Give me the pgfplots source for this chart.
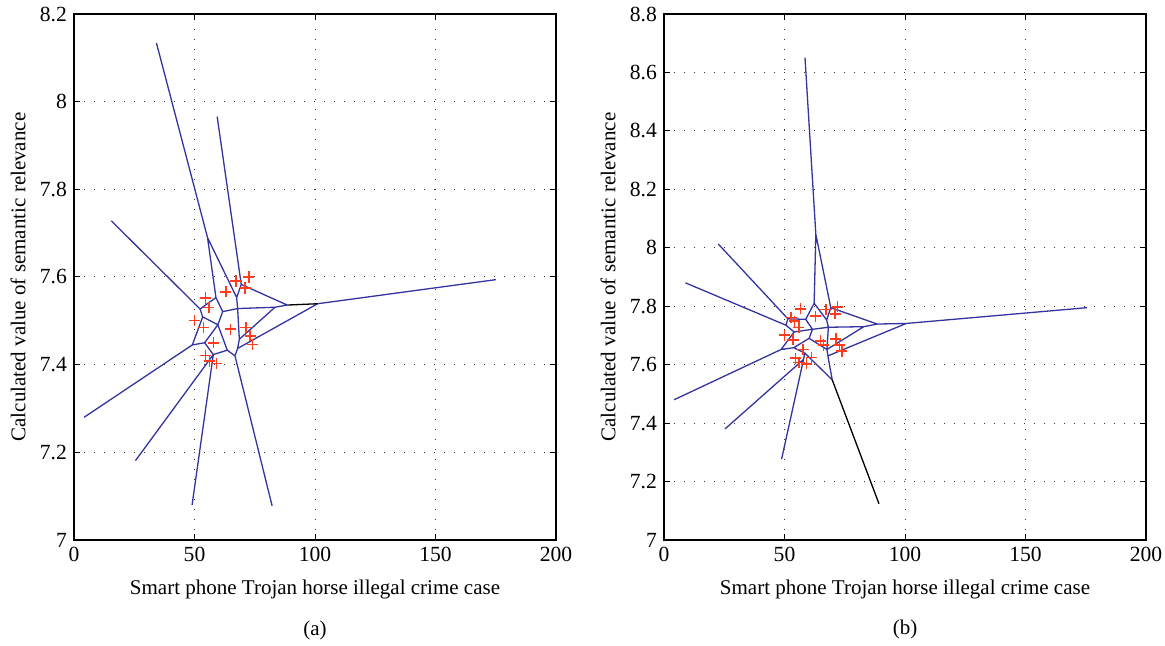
\documentclass[border=0pt]{standalone}
\usepackage{fontspec}
\setmainfont{Liberation Serif}
\usepackage{pgfplots}
\pgfplotsset{compat=1.18}
\definecolor{vor}{RGB}{52,52,160}
\definecolor{pts}{RGB}{255,60,30}
\pgfplotsset{
  vaxis/.style={
    scale only axis, width=241pt, height=263pt,
    xmin=0, xmax=200, xtick={0,50,...,200},
    grid=major, grid style={black!80, line width=0.5pt, dash pattern=on 0.6pt off 4.4pt},
    tick align=inside, major tick length=3pt, tick style={black, line width=0.5pt},
    axis line style={line width=0.7pt},
    /pgf/number format/assume math mode=true,
    ticklabel style={font=\fontsize{10.8}{12}\selectfont},
    label style={font=\fontsize{10.5}{12}\selectfont},
    xlabel={Smart phone Trojan horse illegal crime case},
    ylabel={Calculated value of semantic relevance},
    x label style={at={(axis description cs:0.5,-0.095)}, anchor=center},
    y label style={at={(axis description cs:-0.116,0.5)}, anchor=center},
    unbounded coords=jump,
    clip=false,
  },
  edge/.style={vor, line width=0.65pt, mark=none},
  cross/.style={only marks, mark=+, mark size=2.8pt, color=pts,
    mark options={draw=pts, solid, line width=0.8pt}},
}
\begin{document}
\begin{tikzpicture}
% ---------- (a) ----------
\begin{axis}[vaxis, ymin=7, ymax=8.2, ytick={7,7.2,...,8.2}]
\addplot[edge] coordinates {
 (34.2,8.134) (55.4,7.690) (58.9,7.553) (nan,nan)
 (55.4,7.690) (67.5,7.553) (nan,nan)
 (59.4,7.966) (69.4,7.583) (67.5,7.553) (nan,nan)
 (69.4,7.583) (88.5,7.536) (nan,nan)
 (15.5,7.728) (52.3,7.527) (58.9,7.553) (nan,nan)
 (52.3,7.527) (53.4,7.509) (49.1,7.445) (nan,nan)
 (53.4,7.509) (59.7,7.491) (nan,nan)
 (58.9,7.553) (61.7,7.521) (59.7,7.491) (nan,nan)
 (61.7,7.521) (67.9,7.528) (67.5,7.553) (nan,nan)
 (67.9,7.528) (83.4,7.531) (88.5,7.536) (nan,nan)
 (67.9,7.528) (68.6,7.458) (67.9,7.437) (nan,nan)
 (101.1,7.539) (175.1,7.594) (nan,nan)
 (83.4,7.531) (68.6,7.458) (nan,nan)
 (67.9,7.437) (101.1,7.539) (nan,nan)
 (67.9,7.437) (66.8,7.420) (82.2,7.078) (nan,nan)
 (66.8,7.420) (63.6,7.433) (59.7,7.491) (nan,nan)
 (63.6,7.433) (57.8,7.423) (54.2,7.450) (59.7,7.491) (nan,nan)
 (54.2,7.450) (49.1,7.445) (4.2,7.280) (nan,nan)
 (57.8,7.423) (25.5,7.181) (nan,nan)
 (57.8,7.423) (49.0,7.080)
};
\addplot[black, line width=0.65pt, mark=none] coordinates {(88.5,7.536) (101.1,7.539)};
\addplot[cross] coordinates {
 (72.5,7.600) (67.2,7.591) (71.0,7.575) (63.0,7.566) (54.6,7.552) (55.9,7.530)
 (50.0,7.501) (53.8,7.485) (65.0,7.481) (71.3,7.485) (73.1,7.466) (74.1,7.446)
 (57.9,7.450) (54.6,7.421) (56.3,7.408) (59.2,7.403)
};
\node[font=\fontsize{10.5}{12}\selectfont] at (axis description cs:0.5,-0.171) {(a)};
\end{axis}
% ---------- (b) ----------
\begin{axis}[vaxis, at={(295pt,0pt)}, ymin=7, ymax=8.8, ytick={7,7.2,...,8.8}]
\addplot[edge] coordinates {
 (58.5,8.651) (63.0,8.046) (62.3,7.810) (58.8,7.755) (nan,nan)
 (63.0,8.046) (69.2,7.795) (67.5,7.753) (62.3,7.810) (nan,nan)
 (69.2,7.795) (88.5,7.739) (100.5,7.741) (175.5,7.795) (nan,nan)
 (67.5,7.753) (68.2,7.728) (82.9,7.730) (88.5,7.739) (nan,nan)
 (22.5,8.013) (51.4,7.757) (58.8,7.755) (61.6,7.721) (68.2,7.728) (nan,nan)
 (8.9,7.880) (50.6,7.735) (51.4,7.757) (nan,nan)
 (50.6,7.735) (54.0,7.712) (61.6,7.721) (nan,nan)
 (54.0,7.712) (48.6,7.652) (4.2,7.480) (nan,nan)
 (48.6,7.652) (53.8,7.658) (60.2,7.690) (61.6,7.721) (nan,nan)
 (60.2,7.690) (67.6,7.652) (68.2,7.728) (nan,nan)
 (67.6,7.652) (82.9,7.730) (nan,nan)
 (67.6,7.652) (68.0,7.630) (100.5,7.741) (nan,nan)
 (68.0,7.630) (69.8,7.548) (nan,nan)
 (69.8,7.548) (58.4,7.640) (53.8,7.658) (nan,nan)
 (58.4,7.640) (57.9,7.618) (25.3,7.380) (nan,nan)
 (57.9,7.618) (48.8,7.277)
};
\addplot[black, line width=0.65pt, mark=none] coordinates {(69.8,7.548) (89.2,7.124)};
\addplot[cross] coordinates {
 (56.7,7.791) (67.2,7.789) (72.0,7.798) (71.0,7.774) (62.9,7.766) (52.8,7.761)
 (54.2,7.749) (55.9,7.727) (50.0,7.701) (53.5,7.685) (65.0,7.682) (66.1,7.667)
 (71.3,7.688) (72.8,7.667) (73.8,7.646) (57.7,7.652) (54.5,7.622) (56.0,7.608)
 (59.1,7.603) (61.2,7.624)
};
\node[font=\fontsize{10.5}{12}\selectfont] at (axis description cs:0.5,-0.171) {(b)};
\end{axis}
\pgfresetboundingbox
\path[use as bounding box] (-37pt,-53pt) rectangle (545.5pt,270pt);
\end{tikzpicture}
\end{document}
